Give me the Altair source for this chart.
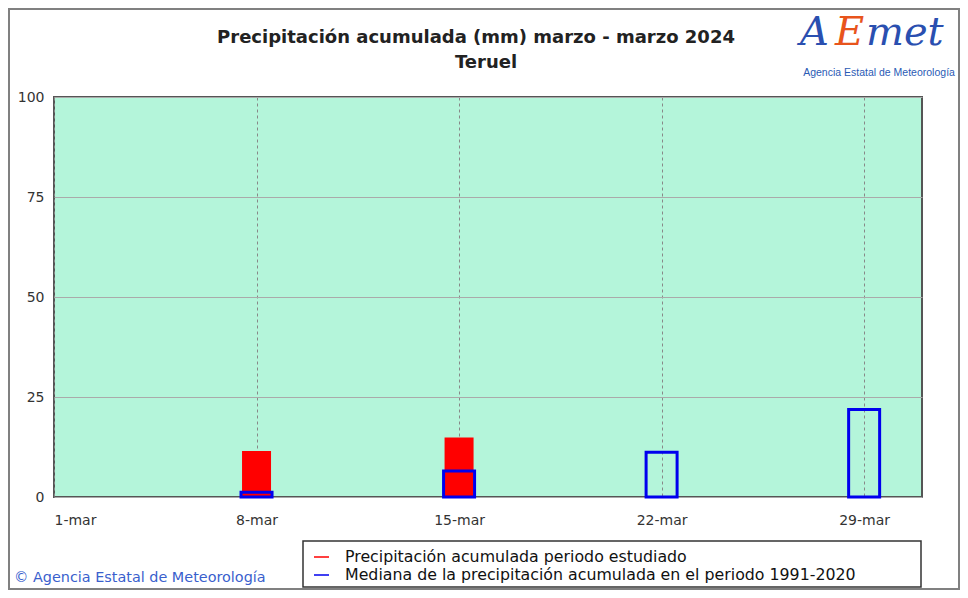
import altair as alt
import pandas as pd

# ---- data ----
obs_days = [8, 15]
obs_values = [11.5, 14.9]
median_days = [8, 15, 22, 29]
median_values = [1.2, 6.5, 11.2, 21.9]
series_names = [
    "Precipitación acumulada periodo estudiado",
    "Mediana de la precipitación acumulada en el periodo 1991-2020",
]
series_colors = ["#ff0000", "#0000ee"]
x_ticks = [1, 8, 15, 22, 29]
y_ticks = [0, 25, 50, 75, 100]
title_lines = ["Precipitación acumulada (mm) marzo - marzo 2024", "Teruel"]
credit = "© Agencia Estatal de Meteorología"
logo_sub = "Agencia Estatal de Meteorología"

FONT = "DejaVu Sans"

obs_df = pd.DataFrame({"dia": obs_days, "mm": obs_values, "serie": series_names[0]})
med_df = pd.DataFrame({"dia": median_days, "mm": median_values, "serie": series_names[1]})

xscale = alt.Scale(domain=[1, 31], nice=False, zero=False, padding=0)
yscale = alt.Scale(domain=[0, 100], nice=False, padding=0)

xaxis = alt.Axis(values=x_ticks, labelExpr="datum.value + '-mar'", title=None,
                 grid=True, gridDash=[3, 3], gridColor="#888888", gridWidth=1,
                 ticks=False, domain=False, labelPadding=16, labelFontSize=14,
                 labelColor="#333333", labelFont=FONT)
yaxis = alt.Axis(values=y_ticks, title=None, grid=True, gridColor="#aaaaaa",
                 gridWidth=1, ticks=False, domain=False, labelPadding=10,
                 labelFontSize=14, labelColor="#333333", labelFont=FONT)

red = alt.Chart(obs_df).mark_bar(size=29, color=series_colors[0]).encode(
    x=alt.X("dia:Q", scale=xscale, axis=xaxis),
    y=alt.Y("mm:Q", scale=yscale, axis=yaxis),
)
blue = alt.Chart(med_df).mark_bar(size=31, filled=False, stroke=series_colors[1],
                                  strokeWidth=3).encode(
    x=alt.X("dia:Q", scale=xscale),
    y=alt.Y("mm:Q", scale=yscale),
)

one = pd.DataFrame({"k": [0]})

# frame around whole figure
frame = alt.Chart(one).mark_rect(fill="white", fillOpacity=0, stroke="#808080", strokeWidth=2).encode(
    x=alt.value(-45), x2=alt.value(905), y=alt.value(-88), y2=alt.value(492))

# titles
t1 = alt.Chart(pd.DataFrame({"t": [title_lines[0]]})).mark_text(
    font=FONT, fontSize=18, fontWeight="bold", color="#222222", baseline="middle").encode(
    text="t:N", x=alt.value(422), y=alt.value(-59))
t2 = alt.Chart(pd.DataFrame({"t": [title_lines[1]]})).mark_text(
    font=FONT, fontSize=18, fontWeight="bold", color="#222222", baseline="middle").encode(
    text="t:N", x=alt.value(432), y=alt.value(-34))

# legend box
lbox = alt.Chart(one).mark_rect(fill="white", stroke="#333333", strokeWidth=1.5).encode(
    x=alt.value(249), x2=alt.value(867), y=alt.value(444), y2=alt.value(490))

leg_layers = []
for i, (name, col) in enumerate(zip(series_names, series_colors)):
    ry = 460 + 18 * i
    ldf = pd.DataFrame({"t": [name]})
    leg_layers.append(alt.Chart(ldf).mark_rule(color=col, strokeWidth=1.5).encode(
        x=alt.value(260), x2=alt.value(275), y=alt.value(ry)))
    leg_layers.append(alt.Chart(ldf).mark_text(font=FONT, fontSize=15.8, color="#111111",
                                               align="left", baseline="middle").encode(
        text="t:N", x=alt.value(291), y=alt.value(ry)))

cred = alt.Chart(pd.DataFrame({"t": [credit]})).mark_text(
    font=FONT, fontSize=14.4, color="#3a5fcd", align="left", baseline="middle").encode(
    text="t:N", x=alt.value(-40), y=alt.value(481))

# logo
logo_parts = [("A", "#2a4fb0", 746), ("E", "#e8541c", 781), ("met", "#2a4fb0", 812)]
logo_layers = []
for txt, col, px in logo_parts:
    logo_layers.append(alt.Chart(pd.DataFrame({"t": [txt]})).mark_text(
        font="DejaVu Serif", fontSize=40, fontStyle="italic", color=col,
        align="left", baseline="middle").encode(
        text="t:N", x=alt.value(px), y=alt.value(-64)))
logo_layers.append(alt.Chart(pd.DataFrame({"t": [logo_sub]})).mark_text(
    font="Liberation Sans", fontSize=10.5, color="#2a5bb5", align="center", baseline="middle").encode(
    text="t:N", x=alt.value(825), y=alt.value(-24)))

chart = alt.layer(red, blue, frame, t1, t2, lbox, *leg_layers, cred, *logo_layers).properties(
    width=868, height=400,
    autosize=alt.AutoSizeParams(type="none"),
    padding={"left": 46, "top": 89, "right": 38, "bottom": 93},
    background="white",
).configure_view(
    fill="#b4f5da", stroke="#555555", strokeWidth=2
)

chart.save("out.html", embed_options={"renderer": "svg", "actions": False})
